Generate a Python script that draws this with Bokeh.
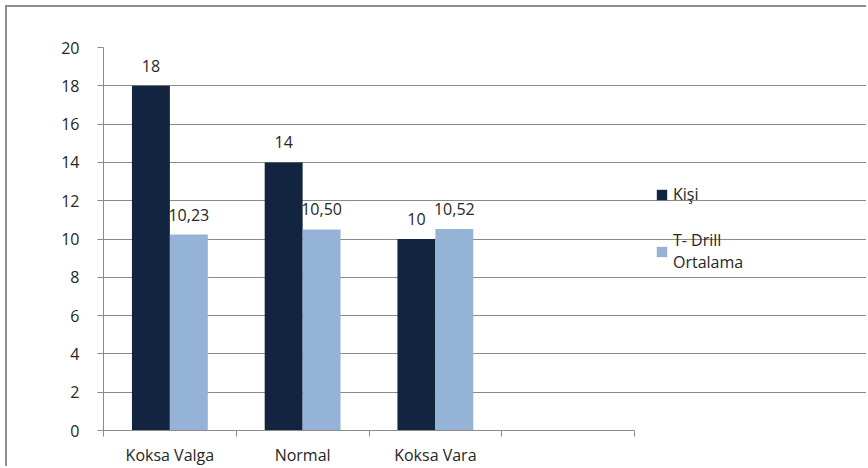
from bokeh.plotting import figure
from bokeh.models import (ColumnDataSource, FixedTicker, Range1d, Legend, LegendItem, LabelSet)
from bokeh.core.properties import value
from bokeh.embed import file_html
from bokeh.resources import INLINE

categories = ["Koksa Valga", "Normal", "Koksa Vara"]
kisi = [18, 14, 10]
tdrill = [10.23, 10.50, 10.52]
kisi_labels = ["18", "14", "10"]
tdrill_labels = ["10,23", "10,50", "10,52"]
y_ticks = [0, 2, 4, 6, 8, 10, 12, 14, 16, 18, 20]
n_slots = 4

DARK = "#12243f"
LIGHT = "#95b3d7"
GRID = "#8a8a8a"
TXT = "#262626"
FONT = "Open Sans"

idx = list(range(len(categories)))
bw = 1 / 3.5
src_k = ColumnDataSource(dict(x=[i + 0.5 - bw / 2 for i in idx], top=kisi, lab=kisi_labels))
src_t = ColumnDataSource(dict(x=[i + 0.5 + bw / 2 for i in idx], top=tdrill, lab=tdrill_labels))

# frame spans to the right edge; the chart part occupies 0..4, legend sits beyond
x_end = n_slots * 765 / 531
p = figure(width=861, height=461, output_backend="svg", toolbar_location=None,
           x_range=Range1d(0, x_end), y_range=Range1d(0, 20),
           min_border_left=96, min_border_right=0, min_border_top=40, min_border_bottom=30)
p.styles = {"margin-left": "5px", "margin-top": "5px",
            "border-left": "2px solid #8f8f8f", "border-top": "2px solid #8f8f8f"}
p.outline_line_color = None
p.background_fill_color = "white"
p.border_fill_color = "white"

rk = p.vbar(x="x", top="top", width=bw, source=src_k, fill_color=DARK, line_color=None)
rt = p.vbar(x="x", top="top", width=bw, source=src_t, fill_color=LIGHT, line_color=None)

for s in (src_k, src_t):
    p.add_layout(LabelSet(x="x", y="top", text="lab", source=s, text_align="center",
                          text_baseline="bottom", y_offset=14, text_font=value(FONT),
                          text_font_size="16px", text_color=TXT))

# axes
p.xgrid.visible = False
p.ygrid.ticker = FixedTicker(ticks=y_ticks)
p.ygrid.grid_line_color = GRID
p.ygrid.bounds = (0, n_slots)
p.yaxis.ticker = FixedTicker(ticks=y_ticks)
p.yaxis.minor_tick_line_color = None
p.yaxis.major_tick_out = 6
p.yaxis.major_tick_in = 0
p.yaxis.major_label_standoff = 18
for ax in (p.xaxis[0], p.yaxis[0]):
    ax.axis_line_color = GRID
    ax.major_tick_line_color = GRID
    ax.major_label_text_font = FONT
    ax.major_label_text_font_size = "16px"
    ax.major_label_text_color = TXT

p.xaxis.bounds = (0, n_slots)
p.xaxis.ticker = FixedTicker(ticks=[i + 0.5 for i in idx], minor_ticks=list(range(n_slots + 1)))
p.xaxis.major_label_overrides = {i + 0.5: c for i, c in zip(idx, categories)}
p.xaxis.major_tick_out = 0
p.xaxis.major_tick_in = 0
p.xaxis.minor_tick_out = 6
p.xaxis.minor_tick_in = 0
p.xaxis.minor_tick_line_color = GRID
p.xaxis.major_label_standoff = 7

legend = Legend(items=[LegendItem(label="Kişi", renderers=[rk]),
                       LegendItem(label="T- Drill\nOrtalama", renderers=[rt])],
                location=(552, 157), orientation="vertical",
                label_text_font=FONT, label_text_font_size="16px", label_text_color=TXT,
                label_text_line_height=1.3,
                glyph_width=13, glyph_height=13, label_standoff=5, spacing=24,
                padding=0, margin=0, border_line_color=None, background_fill_alpha=0)
p.add_layout(legend, "center")

open("out.html", "w").write(file_html(p, INLINE))
